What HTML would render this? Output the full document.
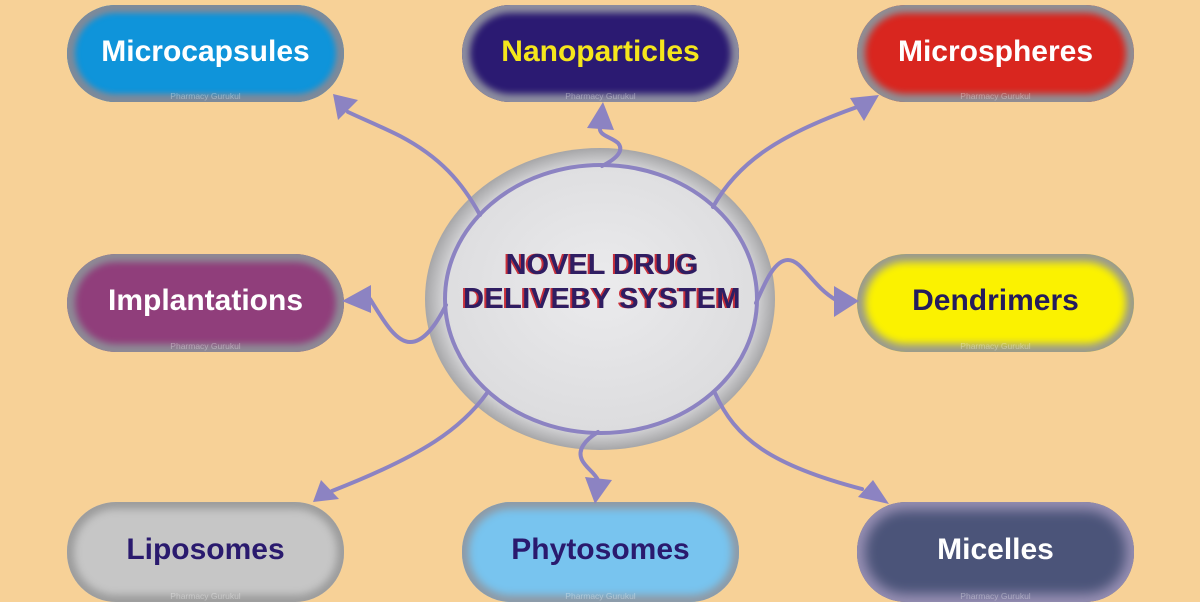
<!DOCTYPE html>
<html>
<head>
<meta charset="utf-8">
<style>
  html,body{margin:0;padding:0;}
  body{width:1200px;height:600px;background:#f7d197;position:relative;overflow:hidden;font-family:"Liberation Sans",Arial,sans-serif;}
  .pill{position:absolute;width:277px;height:97px;border-radius:49px;display:flex;align-items:center;justify-content:center;font-weight:bold;font-size:30px;box-sizing:border-box;padding-bottom:4px;}
  .wm{position:absolute;left:0;right:0;bottom:1px;text-align:center;font-size:8.5px;font-weight:normal;color:rgba(255,255,255,0.35);}
  svg{position:absolute;left:0;top:0;}
</style>
</head>
<body>

<div class="pill" style="left:67px;top:5px;background:#0f94da;box-shadow:inset 0 0 6px 8px #7e8a9a;color:#fff;">Microcapsules<div class="wm">Pharmacy Gurukul</div></div>
<div class="pill" style="left:462px;top:5px;background:#2b1a72;box-shadow:inset 0 0 7px 8px #8d8ea0;color:#f5e61c;">Nanoparticles<div class="wm">Pharmacy Gurukul</div></div>
<div class="pill" style="left:857px;top:5px;background:#d9261f;box-shadow:inset 0 0 7px 8px #8f8f95;color:#fff;">Microspheres<div class="wm">Pharmacy Gurukul</div></div>

<div class="pill" style="left:67px;top:254px;height:98px;background:#903e7b;box-shadow:inset 0 0 7px 8px #8e8a96;color:#fff;">Implantations<div class="wm">Pharmacy Gurukul</div></div>
<div class="pill" style="left:857px;top:254px;height:98px;background:#fbf200;box-shadow:inset 0 0 8px 8px #9a9a8e;color:#241c5c;">Dendrimers<div class="wm">Pharmacy Gurukul</div></div>

<div class="pill" style="left:67px;top:502px;height:100px;background:#c6c6c6;box-shadow:inset 0 0 8px 7px #9c9c9c;color:#2a1a6e;">Liposomes<div class="wm">Pharmacy Gurukul</div></div>
<div class="pill" style="left:462px;top:502px;height:100px;background:#78c4ef;box-shadow:inset 0 0 8px 7px #8e9aa6;color:#2a1a6e;">Phytosomes<div class="wm">Pharmacy Gurukul</div></div>
<div class="pill" style="left:857px;top:502px;height:100px;background:#4b5479;box-shadow:inset 0 0 12px 8px #9890b4;color:#fff;">Micelles<div class="wm">Pharmacy Gurukul</div></div>

<svg width="1200" height="600" viewBox="0 0 1200 600">
  <defs>
    <radialGradient id="ring" cx="50%" cy="50%" r="50%">
      <stop offset="0%" stop-color="#e6e6e8"/>
      <stop offset="82%" stop-color="#dedee0"/>
      <stop offset="90%" stop-color="#cfcfd1"/>
      <stop offset="100%" stop-color="#a6a6a8"/>
    </radialGradient>
    <radialGradient id="inner" cx="50%" cy="45%" r="55%">
      <stop offset="0%" stop-color="#ebebed"/>
      <stop offset="100%" stop-color="#dcdcde"/>
    </radialGradient>
  </defs>
  <ellipse cx="600" cy="299" rx="175" ry="151" fill="url(#ring)"/>
  <ellipse cx="601" cy="299" rx="156" ry="134" fill="url(#inner)" stroke="#8c83c2" stroke-width="4"/>

  <g fill="none" stroke="#8c83c2" stroke-width="4" stroke-linecap="round">
    <path d="M480,215 C462,182 440,157 400,136 C380,126 365,120 348,112"/>
    <path d="M602,166 C618,158 624,150 618,143 C610,136 598,136 600,126"/>
    <path d="M713,207 C738,162 780,134 860,106"/>
    <path d="M446,305 C436,325 424,342 410,342 C395,342 382,318 370,299"/>
    <path d="M756,303 C766,280 775,260 788,260 C802,260 812,286 836,300"/>
    <path d="M487,393 C462,428 424,455 332,491"/>
    <path d="M598,432 C585,440 577,450 582,460 C586,468 594,472 598,480"/>
    <path d="M715,393 C735,438 770,465 862,489"/>
  </g>
  <g fill="#8c83c2">
    <polygon points="333,94 338,120 358,100"/>
    <polygon points="603,102 587,128 614,130"/>
    <polygon points="879,95 864,121 850,98"/>
    <polygon points="342,301 371,285 371,313"/>
    <polygon points="859,301 834,286 834,317"/>
    <polygon points="313,502 321,480 339,499"/>
    <polygon points="595,504 585,477 612,480"/>
    <polygon points="889,504 873,480 858,497"/>
  </g>

  <g font-family="Liberation Sans, Arial, sans-serif" font-weight="bold" font-size="29" text-anchor="middle">
    <text x="600" y="274" fill="#c8303a">NOVEL DRUG</text>
    <text x="602" y="274" fill="#2f1d62">NOVEL DRUG</text>
    <text x="600" y="308" fill="#c8303a" letter-spacing="0.4">DELIVEBY SYSTEM</text>
    <text x="602" y="308" fill="#2f1d62" letter-spacing="0.4">DELIVEBY SYSTEM</text>
  </g>
</svg>

</body>
</html>
